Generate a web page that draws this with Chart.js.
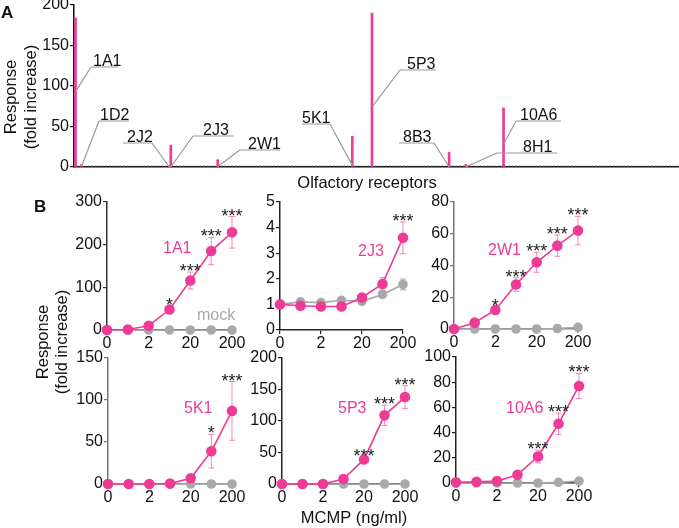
<!DOCTYPE html>
<html><head><meta charset="utf-8">
<script src="https://cdn.jsdelivr.net/npm/chart.js@4/dist/chart.umd.min.js"></script>
<style>
html,body{margin:0;padding:0;background:#fff;}
#wrap{position:relative;width:679px;height:528px;overflow:hidden;background:#fff;}
#wrap canvas{position:absolute;left:0;top:0;}
</style></head><body>
<div id="wrap">
<canvas id="cA" width="679" height="528"></canvas>
<canvas id="b1" width="679" height="528"></canvas>
<canvas id="b2" width="679" height="528"></canvas>
<canvas id="b3" width="679" height="528"></canvas>
<canvas id="b4" width="679" height="528"></canvas>
<canvas id="b5" width="679" height="528"></canvas>
<canvas id="b6" width="679" height="528"></canvas>
</div>
<script>
// ---------- Panel A data ----------
const receptorNames    = ['1A1','1D2','2J2','2J3','2W1','5K1','5P3','8B3','8H1','10A6'];
const receptorIndex    = [1, 5, 63, 64, 95, 184, 197, 248, 259, 284];   // order along x
const receptorResponse = [184, 3, 1, 27, 9, 38, 190, 18, 3, 73];         // fold increase
const receptorCount    = 400;
const otherReceptorResponse = 1.5;
const panelAYTicks = [0, 50, 100, 150, 200];

// ---------- Panel B data ----------
const doseTicks = ['0', '2', '20', '200'];           // MCMP (ng/ml) tick labels
const dosePointCount = 7;

const resp1A1  = [0, 1, 10, 48, 116, 185, 229];
const err1A1   = [0, 0, 2, 8, 20, 32, 37];
const mock1A1  = [0, 0, 0, 0, 0, 0, 0];
const mErr1A1  = [0, 0, 0, 0, 0, 0, 0];
const sig1A1   = ['', '', '', '*', '***', '***', '***'];

const resp2J3  = [1.0, 0.95, 0.92, 0.92, 1.27, 1.8, 3.6];
const err2J3   = [0.03, 0.04, 0.04, 0.04, 0.08, 0.25, 0.62];
const mock2J3  = [1.0, 1.1, 1.07, 1.16, 1.12, 1.39, 1.78];
const mErr2J3  = [0.03, 0.03, 0.03, 0.04, 0.04, 0.06, 0.21];
const sig2J3   = ['', '', '', '', '', '', '***'];

const resp2W1  = [0, 4, 12, 28, 42, 52.5, 62];
const err2W1   = [0, 1, 2, 4.4, 6.3, 6.7, 9];
const mock2W1  = [0, 0, 0, 0, 0, 0.3, 1];
const mErr2W1  = [0, 0, 0, 0, 0, 0, 0];
const sig2W1   = ['', '', '*', '***', '***', '***', '***'];

const resp5K1  = [0, 0, 0, 0.5, 6.8, 39, 87];
const err5K1   = [0, 0, 0, 0, 1, 20, 35];
const mock5K1  = [0, 0, 0, 0, 0, 0, 0];
const mErr5K1  = [0, 0, 0, 0, 0, 0, 0];
const sig5K1   = ['', '', '', '', '', '*', '***'];

const resp5P3  = [0, 0, 0, 8, 39, 109, 138];
const err5P3   = [0, 0, 0, 1, 4, 16, 18];
const mock5P3  = [0, 0, 0, 0, 0, 0, 0];
const mErr5P3  = [0, 0, 0, 0, 0, 0, 0];
const sig5P3   = ['', '', '', '', '***', '***', '***'];

const resp10A6 = [0.5, 1, 1.5, 6.6, 21, 47, 77];
const err10A6  = [0, 0, 0.5, 1, 5, 8.5, 10];
const mock10A6 = [0, 0, 0, 0, 0, 0.5, 1.5];
const mErr10A6 = [0, 0, 0, 0, 0, 0, 0];
const sig10A6  = ['', '', '', '', '***', '***', '***'];

// ---------- styles / layout ----------
const FONT = "'Liberation Sans', Arial, sans-serif";
const PINK = '#ee3b96';
const PINK_ERR = 'rgba(238,59,150,0.6)';
const GRAY = '#a9a9a9';
const W = 679, H = 528;

Chart.defaults.font.family = FONT;
Chart.defaults.font.size = 16;
Chart.defaults.color = '#111';
Chart.defaults.animation = false;
Chart.defaults.plugins.legend.display = false;
Chart.defaults.plugins.tooltip.enabled = false;

const leaderLayout = {
  '1A1':  {u1: 91,  u2: 118, uy: 67,  elbow: 'left',  tx: 93,  touch: 93},
  '1D2':  {u1: 99,  u2: 129, uy: 121, elbow: 'left',  tx: 100, touch: 1},
  '2J2':  {u1: 123, u2: 152, uy: 143, elbow: 'right', tx: 127, touch: 0},
  '2J3':  {u1: 193, u2: 234, uy: 136, elbow: 'left',  tx: 203, touch: 0},
  '2W1':  {u1: 240, u2: 280, uy: 150, elbow: 'left',  tx: 248, touch: 0.5},
  '5K1':  {u1: 302, u2: 330, uy: 124, elbow: 'right', tx: 302, touch: 2},
  '5P3':  {u1: 400, u2: 436, uy: 70,  elbow: 'left',  tx: 407, touch: 74},
  '8B3':  {u1: 399, u2: 434, uy: 143, elbow: 'right', tx: 403, touch: 0},
  '8H1':  {u1: 497, u2: 557, uy: 153, elbow: 'left',  tx: 523, touch: 0},
  '10A6': {u1: 516, u2: 561, uy: 121, elbow: 'left',  tx: 520, touch: 28}
};

const leaderPlugin = {
  id: 'leaders',
  afterDatasetsDraw(chart) {
    const {ctx, scales: {x, y}} = chart;
    ctx.save();
    ctx.strokeStyle = '#9a9a9a'; ctx.lineWidth = 1.2;
    ctx.font = `16px ${FONT}`; ctx.fillStyle = '#111'; ctx.textBaseline = 'alphabetic';
    receptorNames.forEach((name, i) => {
      const L = leaderLayout[name];
      const bx = x.getPixelForValue(receptorIndex[i]);
      const by = y.getPixelForValue(L.touch);
      const ex = L.elbow === 'left' ? L.u1 : L.u2;
      ctx.beginPath();
      ctx.moveTo(L.u1, L.uy); ctx.lineTo(L.u2, L.uy);
      ctx.moveTo(ex, L.uy); ctx.lineTo(bx, by);
      ctx.stroke();
      ctx.fillText(name, L.tx, L.uy - 1.5);
    });
    ctx.restore();
  }
};

function vText(ctx, text, cx, cy) {
  ctx.save(); ctx.translate(cx, cy); ctx.rotate(-Math.PI / 2);
  ctx.textAlign = 'center'; ctx.textBaseline = 'middle';
  ctx.fillText(text, 0, 0); ctx.restore();
}

const figureTextPlugin = {
  id: 'figText',
  afterDraw(chart) {
    const ctx = chart.ctx;
    ctx.save();
    ctx.fillStyle = '#111';
    ctx.font = `bold 17px ${FONT}`; ctx.textBaseline = 'alphabetic'; ctx.textAlign = 'left';
    ctx.fillText('A', 1, 18);
    ctx.fillText('B', 34, 212);
    ctx.font = `16.5px ${FONT}`;
    vText(ctx, 'Response', 11, 97);
    vText(ctx, '(fold increase)', 31, 97);
    vText(ctx, 'Response', 43, 342);
    vText(ctx, '(fold increase)', 62, 342);
    ctx.textAlign = 'center'; ctx.textBaseline = 'middle';
    ctx.fillText('Olfactory receptors', 367, 183);
    ctx.textBaseline = 'alphabetic';
    ctx.fillText('MCMP (ng/ml)', 354, 523);
    ctx.restore();
  }
};

// ---------- Panel A chart ----------
const YW_A = 60;
new Chart(document.getElementById('cA'), {
  type: 'bar',
  data: {
    datasets: [
      {type: 'bar', data: receptorIndex.map((x, i) => ({x, y: receptorResponse[i]})),
       backgroundColor: PINK, barThickness: 2, clip: false, order: 0},
      {type: 'line', data: [{x: 0, y: otherReceptorResponse}, {x: receptorCount, y: otherReceptorResponse}],
       borderColor: '#aaa', borderWidth: 1, borderDash: [1.5, 2], pointRadius: 0, order: 1}
    ]
  },
  options: {
    responsive: false, animation: false,
    layout: {padding: {left: 74 - YW_A, top: 5, right: 0, bottom: H - 167 - 20}},
    scales: {
      x: {type: 'linear', min: 0, max: receptorCount, offset: false,
          ticks: {display: false},
          grid: {display: true, offset: false, drawOnChartArea: false, drawTicks: false},
          border: {color: '#111', width: 1.5},
          afterFit(s) { s.height = 20; s.paddingLeft = 0; s.paddingRight = 0; }},
      y: {min: 0, max: 200,
          afterBuildTicks(s) { s.ticks = panelAYTicks.map(v => ({value: v})); },
          ticks: {padding: 1, color: '#111', font: {size: 16}},
          grid: {drawOnChartArea: false, tickLength: 4, color: '#111', lineWidth: 1.2},
          border: {color: '#111', width: 1.5},
          afterFit(s) { s.width = YW_A; s.paddingTop = 0; s.paddingBottom = 0; }}
    }
  },
  plugins: [leaderPlugin, figureTextPlugin]
});

// ---------- Panel B charts ----------
const YW = 50, XH = 30;
function makeSub(id, s) {
  const pts = arr => arr.map((v, i) => ({x: i, y: v}));
  const errPlugin = {
    id: 'err_' + id,
    beforeDatasetsDraw(chart) {
      const {ctx, scales: {x, y}} = chart;
      ctx.save();
      [[s.mock, s.mockErr, GRAY], [s.resp, s.respErr, PINK_ERR]].forEach(([vals, errs, col]) => {
        ctx.strokeStyle = col; ctx.lineWidth = 1;
        vals.forEach((v, i) => {
          if (!errs[i]) return;
          const px = x.getPixelForValue(i);
          const t = y.getPixelForValue(v + errs[i]), b = y.getPixelForValue(v - errs[i]);
          ctx.beginPath();
          ctx.moveTo(px, t); ctx.lineTo(px, b);
          ctx.moveTo(px - 3, t); ctx.lineTo(px + 3, t);
          ctx.moveTo(px - 3, b); ctx.lineTo(px + 3, b);
          ctx.stroke();
        });
      });
      ctx.restore();
    },
    afterDatasetsDraw(chart) {
      const {ctx, scales: {x, y}} = chart;
      ctx.save();
      ctx.font = `18px ${FONT}`; ctx.fillStyle = '#222';
      ctx.textAlign = 'center'; ctx.textBaseline = 'alphabetic';
      s.sig.forEach((st, i) => {
        if (!st) return;
        const px = x.getPixelForValue(i);
        const t = y.getPixelForValue(s.resp[i] + s.respErr[i]);
        ctx.fillText(st, px, t + 5);
      });
      ctx.textAlign = 'left'; ctx.font = `16px ${FONT}`;
      ctx.fillStyle = PINK;
      ctx.fillText(s.label.text, s.label.x, s.label.y);
      if (s.mockLabel) {
        ctx.fillStyle = GRAY;
        ctx.fillText(s.mockLabel.text, s.mockLabel.x, s.mockLabel.y);
      }
      ctx.restore();
    }
  };
  new Chart(document.getElementById(id), {
    type: 'line',
    data: {datasets: [
      {data: pts(s.resp), borderColor: PINK, backgroundColor: PINK, pointBorderColor: PINK,
       pointRadius: 4.5, borderWidth: 1.6, clip: false, order: 0},
      {data: pts(s.mock), borderColor: GRAY, backgroundColor: GRAY, pointBorderColor: GRAY,
       pointRadius: 4, borderWidth: 1.6, clip: false, order: 1}
    ]},
    options: {
      responsive: false, animation: false,
      layout: {padding: {left: s.area.l - YW, top: s.area.t, right: W - s.area.r, bottom: H - s.area.b - XH}},
      scales: {
        x: {type: 'linear', min: 0, max: dosePointCount - 1,
            ticks: {stepSize: 2, padding: 0, autoSkip: false, maxRotation: 0, color: '#111',
                    callback: v => doseTicks[v / 2]},
            grid: {drawOnChartArea: false, tickLength: 4, color: s.axis, lineWidth: 1.2},
            border: {color: s.axis, width: 1.5},
            afterFit(sc) { sc.height = XH; sc.paddingLeft = 0; sc.paddingRight = 0; }},
        y: {min: 0, max: s.max,
            ticks: {stepSize: s.step, padding: 1, color: '#111'},
            grid: {drawOnChartArea: false, tickLength: 4, color: s.axis, lineWidth: 1.2},
            border: {color: s.axis, width: 1.5},
            afterFit(sc) { sc.width = YW; sc.paddingTop = 0; sc.paddingBottom = 0; }}
      }
    },
    plugins: [errPlugin]
  });
}

makeSub('b1', {resp: resp1A1, respErr: err1A1, mock: mock1A1, mockErr: mErr1A1, sig: sig1A1,
  max: 300, step: 100, axis: '#333', area: {l: 107, r: 232, t: 202, b: 330},
  label: {text: '1A1', x: 163, y: 253}, mockLabel: {text: 'mock', x: 197, y: 320}});
makeSub('b2', {resp: resp2J3, respErr: err2J3, mock: mock2J3, mockErr: mErr2J3, sig: sig2J3,
  max: 5, step: 1, axis: '#222', area: {l: 280, r: 403, t: 202, b: 330},
  label: {text: '2J3', x: 358, y: 256}});
makeSub('b3', {resp: resp2W1, respErr: err2W1, mock: mock2W1, mockErr: mErr2W1, sig: sig2W1,
  max: 80, step: 20, axis: '#777', area: {l: 454, r: 578, t: 202, b: 329},
  label: {text: '2W1', x: 488, y: 255}});
makeSub('b4', {resp: resp5K1, respErr: err5K1, mock: mock5K1, mockErr: mErr5K1, sig: sig5K1,
  max: 150, step: 50, axis: '#777', area: {l: 108, r: 232, t: 358, b: 484},
  label: {text: '5K1', x: 184, y: 413}});
makeSub('b5', {resp: resp5P3, respErr: err5P3, mock: mock5P3, mockErr: mErr5P3, sig: sig5P3,
  max: 200, step: 50, axis: '#222', area: {l: 282, r: 405, t: 358, b: 484},
  label: {text: '5P3', x: 338, y: 413}});
makeSub('b6', {resp: resp10A6, respErr: err10A6, mock: mock10A6, mockErr: mErr10A6, sig: sig10A6,
  max: 100, step: 20, axis: '#222', area: {l: 456, r: 579, t: 357, b: 483},
  label: {text: '10A6', x: 506, y: 413}});
</script>
</body></html>
